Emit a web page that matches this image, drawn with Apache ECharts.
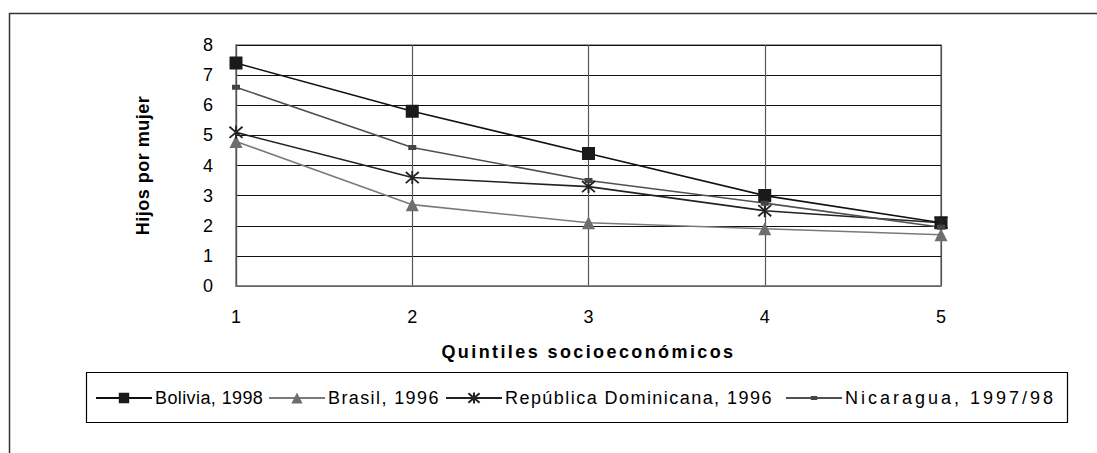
<!DOCTYPE html>
<html><head><meta charset="utf-8">
<script src="https://cdn.jsdelivr.net/npm/echarts@6/dist/echarts.min.js"></script>
<style>html,body{margin:0;padding:0;background:#fff}#c{width:1097px;height:453px}</style>
</head><body><div id="c"></div>
<script>
const categories = ['1','2','3','4','5'];
const yTicks = [0,1,2,3,4,5,6,7,8];
const bolivia = [7.4, 5.8, 4.4, 3.0, 2.1];
const brasil = [4.8, 2.7, 2.1, 1.9, 1.7];
const dominicana = [5.1, 3.6, 3.3, 2.5, 2.1];
const nicaragua = [6.6, 4.6, 3.5, 2.75, 1.95];
const seriesNames = ['Bolivia, 1998', 'Brasil, 1996', 'República Dominicana, 1996', 'Nicaragua, 1997/98'];
const xTitle = 'Quintiles socioeconómicos';
const yTitle = 'Hijos por mujer';

// legend layout (icon start x, text letter spacing)
const legendLeft = [95, 268, 445, 785];
const legendSpacing = [0.4, 1.4, 1.45, 3.0];

const FONT = 'Liberation Sans, Arial, sans-serif';
const star = 'path://M1,1L13,13M13,1L1,13M7,0L7,14';
const smallRect = 'path://M0,0h0.05v0.05h-0.05zM13.95,13.95h0.05v0.05h-0.05zM3,4.5h8v5h-8z';
const bigRect = 'path://M0,0h0.05v0.05h-0.05zM13.95,13.95h0.05v0.05h-0.05zM0.5,0.5h13v13h-13z';
const chart = echarts.init(document.getElementById('c'), null, {renderer:'svg'});
chart.on('finished', function(){
  document.querySelectorAll('#c text').forEach(function(t){
    const s = t.textContent;
    if (s === xTitle) t.setAttribute('letter-spacing','2.4');
    if (s === yTitle) t.setAttribute('letter-spacing','0.5');
    const i = seriesNames.indexOf(s);
    if (i >= 0) t.setAttribute('letter-spacing', String(legendSpacing[i]));
  });
});
const legends = seriesNames.map(function(n, i){
  return {left:legendLeft[i], top:389, itemGap:0, itemWidth:56, itemHeight:14, padding:0,
    textStyle:{fontSize:18, color:'#000', fontFamily:FONT, padding:[0,0,0,-2]}, data:[n]};
});
chart.setOption({
  animation:false,
  backgroundColor:'#fff',
  textStyle:{fontFamily:FONT},
  grid:{left:236, right:156, top:45, bottom:167, show:true, borderColor:'#808080', borderWidth:1.5},
  graphic:[
    {type:'polyline', shape:{points:[[9.5,453],[9.5,13.5],[1097,13.5]]}, style:{stroke:'#333', lineWidth:1.5, fill:null}},
    {type:'rect', shape:{x:86.5, y:372.5, width:981, height:50}, style:{stroke:'#000', lineWidth:1.2, fill:null}}
  ],
  xAxis:{type:'category', data:categories, boundaryGap:false,
    axisLine:{lineStyle:{color:'#808080', width:1.5}}, axisTick:{show:false},
    axisLabel:{color:'#000', fontSize:18, fontFamily:FONT, margin:22},
    splitLine:{show:true, lineStyle:{color:'#555', width:1.2}},
    name:xTitle, nameLocation:'middle', nameGap:57,
    nameTextStyle:{fontWeight:'bold', fontSize:18, color:'#000', fontFamily:FONT}},
  yAxis:{type:'value', min:yTicks[0], max:yTicks[yTicks.length-1], interval:1,
    axisLine:{show:true, lineStyle:{color:'#555', width:1.2}}, axisTick:{show:false},
    axisLabel:{color:'#000', fontSize:18, fontFamily:FONT, margin:23},
    splitLine:{lineStyle:{color:'#111', width:1}},
    name:yTitle, nameLocation:'middle', nameGap:84,
    nameTextStyle:{fontWeight:'bold', fontSize:18, color:'#000', fontFamily:FONT}},
  legend:legends,
  series:[
    {name:seriesNames[0], type:'line', data:bolivia, symbol:bigRect, symbolSize:14,
      lineStyle:{color:'#111', width:1.6}, itemStyle:{color:'#1a1a1a'}},
    {name:seriesNames[1], type:'line', data:brasil, symbol:'triangle', symbolSize:13,
      lineStyle:{color:'#7a7a7a', width:1.6}, itemStyle:{color:'#6e6e6e'}},
    {name:seriesNames[2], type:'line', data:dominicana, symbol:star, symbolSize:13,
      lineStyle:{color:'#222', width:1.6}, itemStyle:{color:'rgba(0,0,0,0)', borderColor:'#222', borderWidth:1.8}},
    {name:seriesNames[3], type:'line', data:nicaragua, symbol:smallRect, symbolSize:14,
      lineStyle:{color:'#505050', width:1.6}, itemStyle:{color:'#444'}}
  ]
});
</script></body></html>
